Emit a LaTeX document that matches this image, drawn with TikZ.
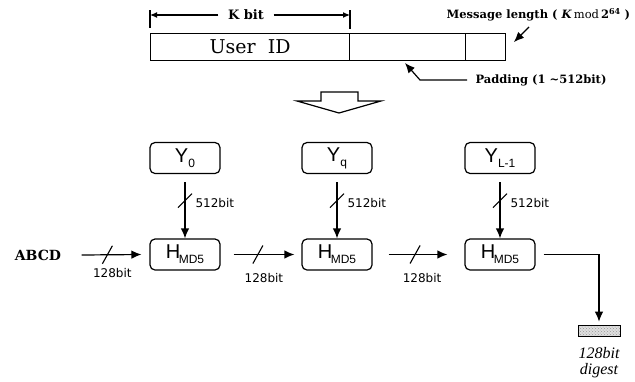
\documentclass[tikz,border=0pt]{standalone}
\usepackage{fontspec}
\setmainfont{DejaVu Serif}
\setsansfont{Liberation Sans}
\newfontfamily\lblfont{DejaVu Sans}
\newfontfamily\tnr{Liberation Serif}
\usetikzlibrary{arrows.meta,patterns}
\newcommand\ysub[1]{\raisebox{-5pt}{\fontsize{12}{12}\selectfont #1}}
\newcommand\hmd{H\kern-1.5pt\raisebox{-5pt}{\fontsize{12}{12}\selectfont MD5}}
\begin{document}
\begin{tikzpicture}[x=1pt,y=-1pt, line width=1.2pt,
  arr/.style={-{Latex[length=10pt,width=8.5pt]}},
  smallarr/.style={-{Latex[length=7pt,width=6pt]}},
  field/.style={draw, minimum height=27pt, anchor=north west, inner sep=0pt},
  rbox/.style={draw, rounded corners=5pt, minimum width=70pt, minimum height=31pt, inner sep=0pt, font=\sffamily\fontsize{20}{20}\selectfont},
  bitlbl/.style={font=\lblfont\fontsize{12}{12}\selectfont, inner sep=0pt},
  boldlbl/.style={font=\bfseries\fontsize{11.5}{12}\selectfont, inner sep=0pt},
  slash/.style={line width=1.1pt}]
\useasboundingbox (0,0) rectangle (635,381);

% message bar
\node[field, minimum width=199pt, font=\fontsize{19}{19}\selectfont] (uid) at (150,33) {User\ \ ID};
\node[field, minimum width=116pt] (padf) at (349,33) {};
\node[field, minimum width=40pt] (lenf) at (465,33) {};

% K bit
\node[font=\bfseries\fontsize{13}{13}\selectfont, inner sep=0pt] (kbit) at (246,15) {K bit};
\coordinate (kl) at (150,15);
\coordinate (kr) at (350,15);
\draw (150,10) -- (150,28);
\draw (350,10) -- (350,29);
\draw[smallarr] ([xshift=-9pt]kbit.west) -- (kl);
\draw[smallarr] ([xshift=9pt]kbit.east) -- (kr);

% message length
\node[boldlbl, anchor=west] (msg) at (446,15) {Message length ( \textit{K}\,{\mdseries mod}\,2\textsuperscript{64} )};
\coordinate (msgs) at (529,27);
\coordinate (msgt) at (514,42);
\draw[arr] (msgs) -- (msgt);

% padding
\node[boldlbl, anchor=west] (padt) at (475,80) {Padding (1 \textasciitilde512bit)};
\coordinate (padb) at (420,80);
\coordinate (padtip) at (405,63);
\draw[arr] ([xshift=-8pt]padt.west) -- (padb) -- (padtip);

% hollow arrow
\draw (321,92) -- (358,92) -- (358,101) -- (381,101) -- (339,113) -- (297,101) -- (321,101) -- cycle;

% Y boxes
\node[rbox] (y0) at (185,158) {Y\ysub{0}};
\node[rbox] (yq) at (337,158) {Y\ysub{q}};
\node[rbox] (yl) at (500,158) {Y\ysub{L-1}};

% H boxes
\node[rbox] (h1) at (185,254.5) {\hmd};
\node[rbox] (h2) at (337,254.5) {\hmd};
\node[rbox] (h3) at (500,254.5) {\hmd};

% vertical arrows
\foreach \a/\b in {y0/h1, yq/h2, yl/h3}{
  \draw[arr] ([yshift=-8pt]\a.south) -- coordinate[pos=0.33] (s\a) (\b.north);
  \draw[slash] ([xshift=-7pt,yshift=-7pt]s\a) -- ([xshift=7pt,yshift=7pt]s\a);
  \node[bitlbl, anchor=west] at ([xshift=10pt,yshift=-2pt]s\a) {512bit};
}

% ABCD and horizontal arrows
\node[font=\bfseries\fontsize{14}{14}\selectfont, inner sep=0pt] (abcd) at (38,255) {ABCD};
\draw[arr] ([xshift=20pt]abcd.east) -- coordinate[pos=0.43] (sa) ([xshift=-8pt]h1.west);
\draw[slash] ([xshift=-5pt,yshift=-9pt]sa) -- ([xshift=5pt,yshift=9pt]sa);
\node[bitlbl] at ([xshift=5pt,yshift=-18pt]sa) {128bit};

\draw[arr] ([xshift=13pt]h1.east) -- coordinate[pos=0.4] (sb) ([xshift=-7pt]h2.west);
\draw[slash] ([xshift=-5pt,yshift=-9pt]sb) -- ([xshift=5pt,yshift=9pt]sb);
\node[bitlbl] at ([xshift=6pt,yshift=-24pt]sb) {128bit};

\draw[arr] ([xshift=16pt]h2.east) -- coordinate[pos=0.45] (sc) ([xshift=-17pt]h3.west);
\draw[slash] ([xshift=-5pt,yshift=-9pt]sc) -- ([xshift=5pt,yshift=9pt]sc);
\node[bitlbl] at ([xshift=7pt,yshift=-24pt]sc) {128bit};

% output digest
\node[draw, preaction={fill=gray!25}, pattern=crosshatch dots, pattern color=gray!80, minimum width=42pt, minimum height=11pt, inner sep=0pt, line width=0.6pt] (dig) at (599,330.5) {};
\draw[arr] ([xshift=8pt]h3.east) -| ([yshift=3pt]dig.north);
\node[font=\tnr\itshape\fontsize{16}{16}\selectfont, inner sep=0pt] (d1) at (599,353) {128bit};
\node[font=\tnr\itshape\fontsize{16}{16}\selectfont, inner sep=0pt] (d2) at (599,371) {digest};
\end{tikzpicture}
\end{document}
